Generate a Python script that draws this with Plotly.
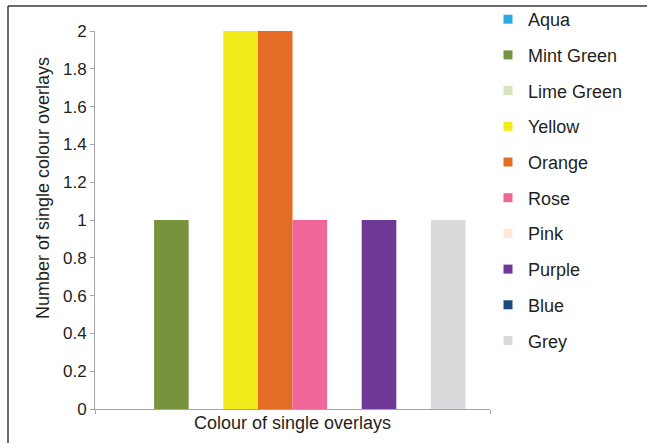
import plotly.graph_objects as go

categories = [" "]
series_names = ["Aqua", "Mint Green", "Lime Green", "Yellow", "Orange",
                "Rose", "Pink", "Purple", "Blue", "Grey"]
series_values = [0, 1, 0, 2, 2, 1, 0, 1, 0, 1]
series_colors = ["#29ABE2", "#77933C", "#D7E4BD", "#F2EA1A", "#E56C24",
                 "#F06699", "#FDE9D9", "#6F3796", "#1B4A7E", "#D9DADC"]
y_ticks = [0, 0.2, 0.4, 0.6, 0.8, 1, 1.2, 1.4, 1.6, 1.8, 2]
x_title = "Colour of single overlays"
y_title = "Number of single colour overlays"

FONT = "Liberation Sans, Arial, sans-serif"
W, H = 647, 443
L, R, T, B = 95, 157, 31, 34
PW, PH = W - L - R, H - T - B

fig = go.Figure()
for name, val, col in zip(series_names, series_values, series_colors):
    fig.add_trace(go.Bar(x=categories, y=[val], name=name, marker_color=col,
                         marker_line_width=0, showlegend=False, legendgroup=name))
    fig.add_trace(go.Scatter(x=[None], y=[None], mode="markers", name=name,
                             marker=dict(symbol="square", size=9, color=col),
                             legendgroup=name, showlegend=True))

fig.update_layout(
    width=W, height=H,
    margin=dict(l=L, r=R, t=T, b=B, autoexpand=False),
    paper_bgcolor="white", plot_bgcolor="white",
    barmode="group", bargap=0.124, bargroupgap=0,
    font=dict(family=FONT, size=17, color="#231F20"),
    legend=dict(x=(488 - L) / PW, xanchor="left",
                y=(H - B - 1) / PH, yanchor="top",
                tracegroupgap=9.3, maxheight=440,
                font=dict(size=18), bgcolor="rgba(0,0,0,0)"),
    xaxis=dict(type="category", showticklabels=False, ticks="outside",
               tickson="boundaries", ticklen=4, tickcolor="#A6A6A6",
               showline=True, linecolor="#A6A6A6", linewidth=1,
               showgrid=False, zeroline=False,
               title=dict(text=x_title, standoff=7, font=dict(size=18))),
    yaxis=dict(range=[0, 2], tickvals=y_ticks, ticks="outside", ticklen=4,
               tickcolor="#A6A6A6", showline=True, linecolor="#A6A6A6",
               linewidth=1, showgrid=False, zeroline=False, tickfont=dict(size=17)),
    annotations=[
        dict(text=y_title, textangle=-90, xref="paper", yref="paper",
             x=(43 - L) / PW, y=(H - B - 188) / PH, xanchor="center",
             yanchor="middle", showarrow=False, font=dict(size=18)),
    ],
    shapes=[
        dict(type="line", xref="paper", yref="paper",
             x0=(8 - L) / PW, x1=(8 - L) / PW,
             y0=(H - B - 450) / PH, y1=(H - B - 6) / PH,
             line=dict(color="#3a3a3a", width=1.5)),
        dict(type="line", xref="paper", yref="paper",
             x0=(8 - L) / PW, x1=(660 - L) / PW,
             y0=(H - B - 6) / PH, y1=(H - B - 6) / PH,
             line=dict(color="#3a3a3a", width=1.5)),
    ],
)
fig.write_html("out.html", config={"displayModeBar": False},
               post_script="document.body.style.margin='0';document.body.style.overflow='hidden';")
